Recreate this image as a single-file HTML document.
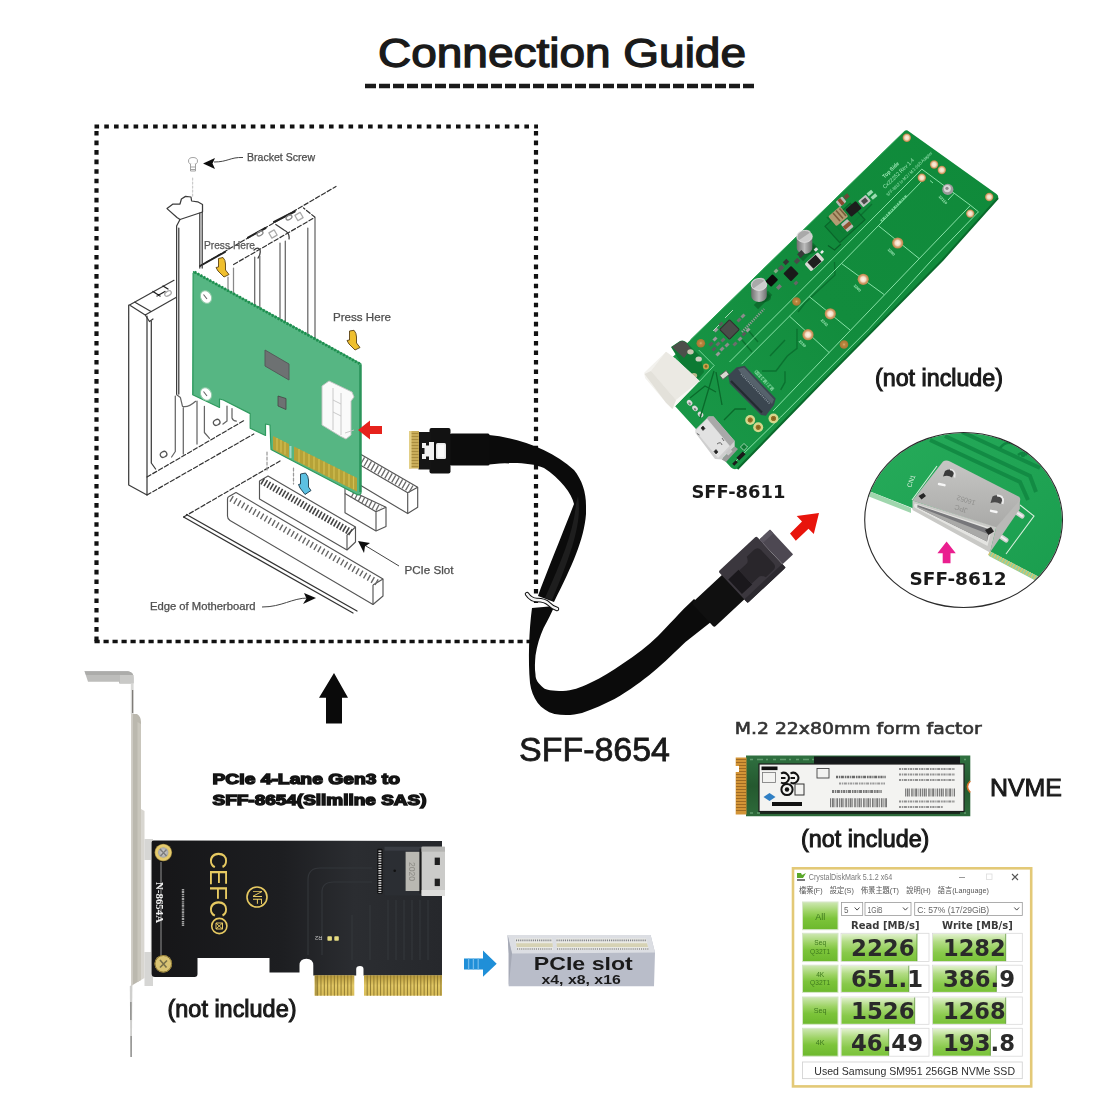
<!DOCTYPE html>
<html lang="en">
<head>
<meta charset="utf-8">
<title>Connection Guide</title>
<style>
html,body{margin:0;padding:0;background:#fff;}
body{width:1100px;height:1100px;overflow:hidden;font-family:"Liberation Sans",sans-serif;}
svg{display:block;}
.lab{font-family:"Liberation Sans",sans-serif;fill:#1a1a1a;}
.dj{font-family:"DejaVu Sans","Liberation Sans",sans-serif;}
.tiny{font-family:"Liberation Sans",sans-serif;fill:#555;}
</style>
</head>
<body>
<svg width="1100" height="1100" viewBox="0 0 1100 1100">
<defs>
<filter id="b1" x="-5%" y="-5%" width="110%" height="110%"><feGaussianBlur stdDeviation="0.6"/></filter>
<filter id="b2" x="-5%" y="-5%" width="110%" height="110%"><feGaussianBlur stdDeviation="0.9"/></filter>
</defs>
<rect width="1100" height="1100" fill="#fff"/>

<!-- ===== TITLE ===== -->
<g id="title">
<text x="562" y="67" text-anchor="middle" class="lab" font-size="40" stroke="#1a1a1a" stroke-width="1.3" textLength="368" lengthAdjust="spacingAndGlyphs">Connection Guide</text>
<line x1="365" y1="86" x2="757" y2="86" stroke="#1a1a1a" stroke-width="4.6" stroke-dasharray="11 3"/>
</g>

<!-- ===== DOTTED BOX ===== -->
<g id="dotbox" fill="none" stroke="#111" stroke-width="4.2">
<line x1="94.5" y1="126.5" x2="538" y2="126.5" stroke-dasharray="4.6 5.17"/>
<line x1="96.5" y1="131" x2="96.5" y2="643" stroke-dasharray="4.6 4.94"/>
<line x1="536" y1="131" x2="536" y2="643" stroke-dasharray="4.6 4.94"/>
<line x1="94.5" y1="641.5" x2="538" y2="641.5" stroke-dasharray="5.2 3.8" stroke-width="3.6"/>
</g>

<!--DIAGRAM-START-->
<!-- ===== INSTALL DIAGRAM ===== -->
<g id="diagram" filter="url(#b1)">
<g fill="none" stroke="#3c3c3c" stroke-width="1.25" stroke-linejoin="round" stroke-linecap="round">
  <!-- rear chassis: back edge line -->
  <path d="M200,266 L336,186.5" stroke-dasharray="4.5 2.2" stroke="#333" stroke-width="1.2"/>
  <path d="M200,266 L225,252 M248,237.6 L265.6,228 M274,222 L294.7,211.5" stroke="#222" stroke-width="2"/>
  <!-- front top edge of covers -->
  <path d="M233.6,264.5 L315,217.3 L303.5,208" stroke-dasharray="4.5 2.2" stroke="#333" stroke-width="1.2"/>
  <!-- cover dividers on top face -->
  <path d="M275.8,224.5 L284,230 Q290,233 289,239 M254,250 q4,-4 6,0 q1,4 -2,8"/>
  <rect x="270" y="231" width="6" height="6" stroke="#aaa" transform="rotate(-30 273 234)"/>
  <rect x="296" y="213.5" width="6" height="6" stroke="#aaa" transform="rotate(-30 299 216.5)"/>
  <ellipse cx="260" cy="233.5" rx="3.2" ry="2" stroke="#888" transform="rotate(-30 260 233.5)"/>
  <ellipse cx="289" cy="217.5" rx="3.2" ry="2" stroke="#888" transform="rotate(-30 289 217.5)"/>
  <!-- slot covers behind card verticals -->
  <path d="M254.7,257 V306 M259.8,256 V309 M280,243 V320 M285.3,241 V323 M307.8,228 V335 M315,218 V339" stroke="#666"/>
  <path d="M228,277 V290 M233.5,268 V293" stroke="#888"/>
  <!-- cover A (front-left) -->
  <path d="M129.5,305 L174,280.3 M129.5,305 L145.2,315 L176,297.5 M134.5,302 L151,311.5 M145.2,315 L149.5,321.5 L153,319" />
  <path d="M128.7,305 V485 L147,495 M147,316 V495 M151.3,321 V463 L155.6,469" />
  <path d="M153,291.5 l7,4.5 M163,286 l5,3 M157,296 l8,-4.5" stroke="#222" stroke-width="1.4"/>
  <ellipse cx="168" cy="293.5" rx="3.6" ry="2.2" stroke="#aaa" transform="rotate(-30 168 293.5)"/>
  <!-- chassis bottom rails -->
  <path d="M147,495 L253.8,434 M147,477 L245,420" stroke-dasharray="4.5 2.2" stroke="#333" stroke-width="1.2"/>
  <!-- covers lower parts -->
  <path d="M175.3,396 V451.5 L171.6,457 M183.3,407.8 V454 M176.7,394.7 L180.4,397.6 L182.5,406.4 Q188,408 195.6,401.3 M197,401 V444 M204.4,406.4 V432.5 L209.5,438.4" stroke="#666"/>
  <path d="M227,406 V421 M232,408.5 V418 q1,3 4.4,3 M223,424 l4,-3" stroke="#666"/>
  <ellipse cx="163.6" cy="454.4" rx="3.4" ry="2.8" stroke="#555" transform="rotate(-30 163.6 454.4)"/>
  <ellipse cx="216.7" cy="422.4" rx="3.4" ry="2.8" stroke="#555" transform="rotate(-30 216.7 422.4)"/>
  <!-- card bracket -->
  <path d="M167,208.6 L173,204 L180,204 L181.4,199 L185.5,196.4 L191,197 L191.6,201 L197.7,201.8 L202.5,204.5 L202.5,212 L180,219.5 L177,217.5 Z" fill="#fff"/>
  <path d="M176.6,226 L180,219.5 M176.6,226 V394 M178.8,228 V394 M199.8,213 V268 M202.2,212 V268"/>
  <path d="M192.6,196 V176" stroke="#ccc" stroke-dasharray="2 2"/>
  <!-- motherboard edge -->
  <path d="M183.6,517 L353,613 M186.5,514.5 L357,611" stroke="#333"/>
  <path d="M183.6,517 L280,461" stroke-dasharray="4.5 2.2" stroke="#333" stroke-width="1.2"/>
  <path d="M267,452 V470 M293.5,468 V484" stroke="#999" stroke-dasharray="3 2"/>
</g>
<!-- PCIe slots -->
<g fill="#fff" stroke="#555" stroke-width="1.15" stroke-linejoin="round">
  <!-- slot 4 (far right) -->
  <path d="M355,451 L417.7,487.3 L417.7,507.3 L407.7,513.6 L355,482 Z" />
  <path d="M407.7,492.7 L417.7,487.3 M407.7,492.7 V513.6 M355,462 L407.7,492.7" fill="none"/>
  <path d="M362,460.5 L412,489.5" stroke-width="8" stroke="#6a6a6a" stroke-dasharray="1.3 2.7" fill="none"/>
  <!-- slot 3 -->
  <path d="M345,488 L386,507.3 L386,526.4 L376,531 L345,512.7 Z"/>
  <path d="M376,511.8 L386,507.3 M376,511.8 V531 M345,493.5 L376,511.8" fill="none"/>
  <path d="M352,494.5 L380.5,509.3" stroke-width="6.5" stroke="#6a6a6a" stroke-dasharray="1.3 2.7" fill="none"/>
  <!-- slot 2 (front long) -->
  <path d="M229,496.5 Q227.5,497 227.5,499 L227.5,516 Q227.5,519 230,520.5 L373,604.5 L383,596 L383,579 L236,492.5 Z"/>
  <path d="M373,585 L383,579 M373,585 V604.5" fill="none"/>
  <path d="M231,498.5 L378,583" stroke-width="6.5" stroke="#666" stroke-dasharray="1.4 3.0" fill="none"/>
  <!-- slot 1 (card slot) -->
  <path d="M259.5,481 L259.5,499 L347,550 L355.5,542 L355.5,527 L268,476 Z"/>
  <path d="M347,535 L355.5,527 M347,535 V550" fill="none"/>
  <path d="M262,481 L351,532.5" stroke-width="7" stroke="#444" stroke-dasharray="1.6 1.9" fill="none"/>
</g>
<!-- green card -->
<g>
  <path d="M193.5,271.5 L361,364 L361,493 Q360,496 356,494 L271,449.5 L270,425 L265.5,424 L265.5,435.5 L250.2,428.2 L250.2,413.6 L223.3,400 L219.5,399 L219.5,407.5 L192.7,394.7 Z" fill="#57b683" stroke="#2f9a5e" stroke-width="1.2" stroke-linejoin="round"/>
  <path d="M194.5,272 L361,364.5" stroke="#1f8f50" stroke-width="2.8" stroke-dasharray="2 1.4" fill="none"/>
  <path d="M360.3,365 V492" stroke="#2a945a" stroke-width="2.2" fill="none"/>
  <path d="M193.2,273 V394" stroke="#3fa56e" stroke-width="1.4" fill="none"/>
  <!-- gold fingers -->
  <path d="M273,436 L289,444 L289,458 L273,449.5 Z" fill="#b5a238"/>
  <path d="M294,446.5 L357,478 L357,491.5 L294,460 Z" fill="#b5a238"/>
  <path d="M277,438 v12.5 M281,440 v12.5 M285,442 v12.5 M299,449 v13 M304,451.5 v13 M309,454 v13 M314,456.5 v13 M319,459 v13 M324,461.5 v13 M329,464 v13 M334,466.5 v13 M339,469 v13 M344,471.5 v13 M349,474 v13 M353.5,476.3 v13" stroke="#d2c052" stroke-width="1.2" fill="none"/>
  <path d="M290.5,446 v12" stroke="#9fd8c8" stroke-width="2" fill="none"/>
  <!-- chips -->
  <path d="M265,350 L289,364 L289,380 L265,366 Z" fill="#6d7172" stroke="#565a5a" stroke-width="1"/>
  <path d="M278,396 L286,398.5 L286,409.5 L278,406 Z" fill="#6d7172" stroke="#444" stroke-width="0.8"/>
  <!-- screw holes -->
  <ellipse cx="206" cy="297" rx="5.3" ry="6.6" fill="#fff" stroke="#8fcaa8" stroke-width="1" transform="rotate(-30 206 297)"/>
  <ellipse cx="206" cy="394" rx="5.3" ry="6.6" fill="#fff" stroke="#8fcaa8" stroke-width="1" transform="rotate(-30 206 394)"/>
  <path d="M203.5,294.5 l3.5,4.5 M203.5,391.5 l3.5,4.5" stroke="#666" stroke-width="1.1" fill="none"/>
  <!-- white connector -->
  <path d="M322,386 L329,381 L352,392 L354,397 L351,401 L351,435 L346,439 L340,436 L322,425 Z" fill="#fafafa" stroke="#c4c4c4" stroke-width="0.9"/>
  <path d="M333,388 L333,430 M341,393 L341,435 M333,400 l8,4 M333,412 l8,4 M345,433 l9,-3" stroke="#c4c4c4" stroke-width="0.9" fill="none"/>
</g>
<!-- arrows -->
<polygon points="358,430 370,420.5 370,426 382,426 382,434 370,434 370,439.5" fill="#e6211c"/>
<path d="M218.5,258.5 L223,257.5 Q225.5,260 225.5,264 L225.5,270 L229,274.5 L224,277 L218,271 L216,267.5 L218.5,267 Z" fill="#efbf2e" stroke="#5a4212" stroke-width="0.9" stroke-linejoin="round"/>
<path d="M349.5,331 L354,330.3 Q356.5,333 356.5,337 L356.5,343 L360,347.5 L355,350 L349,344 L347,340.5 L349.5,340 Z" fill="#efbf2e" stroke="#5a4212" stroke-width="0.9" stroke-linejoin="round"/>
<path d="M300.5,474 L305.5,473 Q308.5,476 308.5,480 L308.5,487 L311,490.5 L305,494.5 L300,488 L298.5,484.5 L300.5,484 Z" fill="#5cc0e2" stroke="#1d3a4a" stroke-width="0.9" stroke-linejoin="round"/>
<!-- screw -->
<g stroke="#999" stroke-width="0.9" fill="#fff">
  <ellipse cx="193" cy="161" rx="4.5" ry="3.5"/>
  <path d="M190.5,164 v7 h5 v-7 M190.5,167 h5 M190.5,169.5 h5"/>
</g>
<!-- leader lines -->
<g fill="none" stroke="#444" stroke-width="1">
  <path d="M214,162 C228,162 230,157 243,157.5"/>
  <path d="M262,607 C282,607 292,598 308,598"/>
  <path d="M366,546 L399,566"/>
</g>
<polygon points="203,163.6 215,158 212.5,163.6 215,169" fill="#111"/>
<polygon points="316,598 304,593 306.5,598.5 303,604" fill="#111"/>
<polygon points="358,541 370,543 365,546.5 364,553" fill="#111"/>
<!-- diagram labels -->
<g class="tiny" fill="#444" stroke="#444" stroke-width="0.25">
  <text x="247" y="160.5" font-size="10" textLength="68" lengthAdjust="spacingAndGlyphs">Bracket Screw</text>
  <text x="204" y="248.5" font-size="10.5" textLength="51" lengthAdjust="spacingAndGlyphs" fill="#666">Press Here</text>
  <text x="333" y="321" font-size="11" textLength="58" lengthAdjust="spacingAndGlyphs">Press Here</text>
  <text x="404.5" y="574" font-size="10" textLength="49" lengthAdjust="spacingAndGlyphs">PCIe Slot</text>
  <text x="150" y="609.5" font-size="10" textLength="105.6" lengthAdjust="spacingAndGlyphs">Edge of Motherboard</text>
</g>
</g>
<!--DIAGRAM-END-->

<!--CABLE-START-->
<!-- ===== CABLE ===== -->
<g id="cable">
  <!-- upper ribbon from connector 1 to the fold -->
  <path d="M450,434 L489,435 C520,438 552,450 574,470 C582,480 586,492 586,506 L586,514 C584,540 572,566 554,602 L538,596 C546,574 560,540 574,504 C572,494 560,478 544,468 C530,462 510,462 489,464.5 L450,465 Z" fill="#0b0b0b"/>
  <!-- fold shading -->
  <path d="M578,496 C582,520 574,548 552,600 L545,598 C562,560 574,530 576,504 Z" fill="#1e1e1e"/>
  <!-- lower loop -->
  <path d="M532,608 C529,630 528,660 530,683 C532,698 540,710 554.5,714 C565,716 574,715 582,713 C594,709 604,704 614.5,699 C630,690 642,681 653,672 C664,663 676,651 685.5,642 L716,618 L694,599 C680,612 668,626 658,636 C648,646 636,655 623,663.6 C612,671 602,678 590,683 C580,688 572,690.5 563,691 C552,691 546,690 543.6,688 C538,683 535.5,680 535.5,674.5 C534.5,668 535,662 535.5,655.5 C537,645 540,636 543.6,628 C548,620 552,612 554.5,606 Z" fill="#0b0b0b"/>
  <!-- cable tie -->
  <path d="M527,594 q4,6 10,6 q8,0 12,4 q4,4 8,5" fill="none" stroke="#111" stroke-width="4.5" stroke-linecap="round"/>
  <path d="M527,594 q4,6 10,6 q8,0 12,4 q4,4 8,5" fill="none" stroke="#f4f4f4" stroke-width="2.4" stroke-linecap="round"/>
  <!-- connector 1 (left) -->
  <rect x="450" y="433.5" width="39.5" height="32" rx="1.5" fill="#0c0c0c"/>
  <rect x="429.5" y="428" width="21" height="45.5" rx="2" fill="#121212"/>
  <rect x="418.5" y="432" width="12" height="37.5" fill="#161616"/>
  <rect x="409" y="431" width="10" height="37.5" fill="#c9ad5a"/>
  <path d="M409.5,433.5 h9 M409.5,436.5 h9 M409.5,439.5 h9 M409.5,442.5 h9 M409.5,445.5 h9 M409.5,448.5 h9 M409.5,451.5 h9 M409.5,454.5 h9 M409.5,457.5 h9 M409.5,460.5 h9 M409.5,463.5 h9 M409.5,466.5 h9" stroke="#a88c3e" stroke-width="1"/>
  <rect x="409" y="431" width="2.5" height="37.5" fill="#e3cf86"/>
  <path d="M422,443 h4 v2.5 h3 v-3.5 h5 v18 h-5 v-3.5 h-3 v2.5 h-4 v-5 h2.5 v-6 h-2.5 Z" fill="#f2f2f2"/>
  <rect x="436" y="443" width="10" height="16" rx="1.5" fill="#e9e9e9"/>
  <rect x="437.5" y="444.5" width="7" height="13" rx="1" fill="#fbfbfb"/>
  <!-- connector 2 (right) -->
  <g transform="translate(752 569.6) rotate(-43)">
    <rect x="-67" y="-16.5" width="44" height="33" rx="2" fill="#101010"/>
    <rect x="-26" y="-21.5" width="52" height="43" rx="2" fill="#3b373e"/>
    <rect x="26" y="-17" width="14.5" height="34" rx="1" fill="#4d4852"/>
    <path d="M-24,-9 h14 v20 h-14 Z" fill="#1a181c"/>
    <path d="M-10,-8 h10 q3,0 5,-5 h10 q5,0 5,5 v18 q0,5 -5,5 h-10 q-2,-5 -5,-5 h-10 Z" fill="#29262b"/>
    <path d="M-26,21.5 h52 v-5 h-52 Z" fill="#2c292f"/>
    <path d="M26,-17 h14.5 v5 h-14.5 Z" fill="#5a5560"/>
  </g>
</g>
<!--CABLE-END-->

<!--PCB-START-->
<!-- ===== GREEN ADAPTER PCB ===== -->
<g id="pcb">
<defs><linearGradient id="pcbg" x1="0" y1="1" x2="1" y2="0"><stop offset="0" stop-color="#1b9a4a"/><stop offset="0.5" stop-color="#128c3d"/><stop offset="1" stop-color="#0f8a3a"/></linearGradient>
<radialGradient id="hole"><stop offset="0" stop-color="#d9b070"/><stop offset="0.35" stop-color="#b98640"/><stop offset="1" stop-color="#a87430"/></radialGradient>
<radialGradient id="holec"><stop offset="0" stop-color="#fbf1e2"/><stop offset="0.5" stop-color="#f1dcc0"/><stop offset="0.75" stop-color="#d9a878"/><stop offset="1" stop-color="#b9803f"/></radialGradient>
<radialGradient id="holey"><stop offset="0" stop-color="#7a5a1e"/><stop offset="0.45" stop-color="#9a7628"/><stop offset="0.6" stop-color="#d9d488"/><stop offset="1" stop-color="#cfd890"/></radialGradient>
<radialGradient id="holeb"><stop offset="0" stop-color="#fff6ea"/><stop offset="0.45" stop-color="#f3dfc6"/><stop offset="0.7" stop-color="#d6a070"/><stop offset="1" stop-color="#b98345"/></radialGradient>
<linearGradient id="capg" x1="0" y1="0" x2="1" y2="0"><stop offset="0" stop-color="#6f6f6f"/><stop offset="0.5" stop-color="#bdbdbd"/><stop offset="1" stop-color="#707070"/></linearGradient></defs>
<path d="M904.5,131 Q906.5,129.5 909,131.5 L996.5,194 Q999.5,196.5 997.5,199.5 L942,260 L823.6,380 L739,467.5 Q735,471 731,467.5 L654,383 Q650,379 654,375 L690.4,340 Z" fill="url(#pcbg)"/>
<path d="M998,198 L942.5,260 L824,380 L737.5,469" stroke="#0a6a2c" stroke-width="2" fill="none"/>
<path d="M905,131 L690.4,340" stroke="#2aa356" stroke-width="1" fill="none"/>
<g fill="none" stroke="#0b7230" stroke-width="1.4">
<path d="M827,217 L843,233 L872,204 M834.5,262 L835,275 L805,303 L798,312 M797,328.7 V348.4 L787.3,356 L776,371 H762 M785,371.3 V382.2 L780.7,389.8 M748,330 l10,12 M742,340 l10,12 M770,356 L785,340"/>
</g>
<g fill="none" stroke="#8fe6ad" stroke-width="1" opacity="0.95">
<path d="M921.8,169.1 L790.5,300.9 L729.5,362"/>
<path d="M921.8,169.1 L970.5,205.3 L773,411"/>
<path d="M970.5,205.3 L978.5,211.8 L932.7,259.1 L869.1,328.7 L780.7,417.1 L735,462"/>
<path d="M924,179 L809.1,296.5 L741.5,364.2"/>
<path d="M878.4,225.7 L919.1,258.5 M841.5,263.5 L884.2,294.6 M809.1,296.5 L850.1,330 M789.5,316.2 L829.3,352.7"/>
<path d="M954.5,193 L948,200 M930,180.5 l3,2.5"/>
</g>
<g font-family="'Liberation Sans',sans-serif" fill="#a4ecbc" font-size="4.6" opacity="0.95">
<text transform="translate(884.5,178.5) rotate(-44)" font-weight="bold" font-size="5.4" textLength="20.8" lengthAdjust="spacingAndGlyphs">Top Side</text>
<text transform="translate(885,189) rotate(-44)" font-size="5.6" textLength="41" lengthAdjust="spacingAndGlyphs">Cx22252 Rev 1.4</text>
<text transform="translate(888,196.5) rotate(-44)" font-size="4.4" textLength="62" lengthAdjust="spacingAndGlyphs">SFF-8612 to M.2 / M.3 SSD Adapter</text>
<path d="M881,221 L907,195" stroke="#8fe6ad" stroke-width="2.2" stroke-dasharray="1.6 0.9 2.5 0.8 1 0.9" fill="none" opacity="0.85"/>
<text transform="translate(887.5,250) rotate(46)" font-size="3.8" font-weight="bold">2280</text>
<text transform="translate(853.5,286) rotate(46)" font-size="3.8" font-weight="bold">2260</text>
<text transform="translate(820.5,320.5) rotate(46)" font-size="3.8" font-weight="bold">2242</text>
<text transform="translate(798.5,341.5) rotate(46)" font-size="3.8" font-weight="bold">2230</text>
<text transform="translate(938.5,197) rotate(46)" font-size="3.8" font-weight="bold">22110</text>
<text transform="translate(774.5,388.5) rotate(-133)" font-size="4.6" font-weight="bold" textLength="26" lengthAdjust="spacingAndGlyphs">M.2 / M.3 SSD</text>
</g>
<circle cx="906.8" cy="137.7" r="4.2" fill="url(#holec)"/>
<circle cx="934.1" cy="164.5" r="4.2" fill="url(#holec)"/>
<circle cx="941.8" cy="170.0" r="4.2" fill="url(#holec)"/>
<circle cx="921.8" cy="177.7" r="4.2" fill="url(#holec)"/>
<circle cx="989.2" cy="197.0" r="4.2" fill="url(#holec)"/>
<circle cx="970.2" cy="213.6" r="4.2" fill="url(#holec)"/>
<circle cx="796.5" cy="301.5" r="4.3" fill="url(#hole)"/>
<circle cx="844.0" cy="344.5" r="4.3" fill="url(#hole)"/>
<circle cx="700.8" cy="343.2" r="4.3" fill="url(#hole)"/>
<circle cx="750.2" cy="420.0" r="5.0" fill="url(#holey)"/>
<circle cx="758.2" cy="427.3" r="5.0" fill="url(#holey)"/>
<circle cx="773.5" cy="418.5" r="5.0" fill="url(#holey)"/>
<circle cx="897.7" cy="243.0" r="5.6" fill="url(#holeb)"/>
<circle cx="863.2" cy="279.3" r="5.6" fill="url(#holeb)"/>
<circle cx="830.3" cy="313.8" r="5.6" fill="url(#holeb)"/>
<circle cx="808.0" cy="334.7" r="5.6" fill="url(#holeb)"/>
<circle cx="947.8" cy="189.4" r="5.6" fill="#9a9a9a"/><circle cx="947.3" cy="188.6" r="3.6" fill="#d6d6d6"/><circle cx="947" cy="188.3" r="1.6" fill="#8a8a8a"/>
<rect x="828.0" y="212.0" width="34.0" height="22.0" transform="rotate(-42 845.0 223.0)" fill="#0f7f36" stroke="#0a6028" stroke-width="1.2" opacity="0.85"/>
<path d="M828,245.5 L834.5,250 L841,244" fill="none" stroke="#0a6028" stroke-width="1.2"/>
<rect x="830.5" y="209.9" width="15.5" height="13.0" transform="rotate(-40 838.2 216.4)" fill="#b39c72" rx="1.5"/>
<path d="M833,213 l7,8 M836,210.5 l7,8 M839.5,208.5 l6.5,7.5" stroke="#7d5e3c" stroke-width="1.6" fill="none"/>
<rect x="846.8" y="204.2" width="13.6" height="9.5" transform="rotate(-40 853.6 209.0)" fill="#1d1d1d" rx="1"/>
<rect x="836.8" y="198.3" width="8.5" height="7.0" transform="rotate(-40 841.0 201.8)" fill="#b9b9b2" rx="1"/>
<rect x="839.2" y="198.3" width="3.6" height="7.0" transform="rotate(-40 841.0 201.8)" fill="#8a4a30" />
<rect x="843.0" y="220.5" width="8.5" height="10.0" transform="rotate(-40 847.3 225.5)" fill="#bdbdb6" rx="1"/>
<rect x="843.0" y="223.5" width="8.5" height="4.0" transform="rotate(-40 847.3 225.5)" fill="#8f5030" />
<rect x="844.0" y="194.5" width="5.0" height="4.0" transform="rotate(-40 846.5 196.5)" fill="#6a4a38" />
<rect x="859.5" y="197.0" width="10.0" height="8.0" transform="rotate(-40 864.5 201.0)" fill="#c4c4c4" rx="1"/>
<rect x="861.8" y="198.8" width="5.5" height="4.5" transform="rotate(-40 864.5 201.0)" fill="#4a4a4a" />
<rect x="867.0" y="191.2" width="6.0" height="3.5" transform="rotate(-40 870.0 193.0)" fill="#9adbb0" />
<rect x="871.0" y="194.8" width="6.0" height="3.5" transform="rotate(-40 874.0 196.5)" fill="#9adbb0" />
<rect x="798.0" y="249.0" width="20.0" height="6.0" transform="rotate(-45 808.0 252.0)" fill="#0a5f27" opacity="0.7"/>
<ellipse cx="807.5" cy="249.4" rx="9" ry="5" fill="#07521f" opacity="0.55"/>
<path d="M796.7,236.4 v11.5 a7.8,6 0 0 0 15.6,0 v-11.5 Z" fill="url(#capg)"/>
<ellipse cx="804.5" cy="236.4" rx="7.8" ry="6" fill="#cdcdcd"/>
<path d="M796.7,236.4 a7.8,6 0 0 1 15.6,0 Z" fill="#a9a9a9" transform="rotate(-35 804.5 236.4)"/>
<ellipse cx="804.5" cy="236.4" rx="7.8" ry="6" fill="none" stroke="#e6e6e6" stroke-width="0.7"/>
<rect x="753.0" y="297.0" width="20.0" height="6.0" transform="rotate(-45 763.0 300.0)" fill="#0a5f27" opacity="0.7"/>
<ellipse cx="762.0" cy="297.5" rx="9" ry="5" fill="#07521f" opacity="0.55"/>
<path d="M751.2,284.5 v11.5 a7.8,6 0 0 0 15.6,0 v-11.5 Z" fill="url(#capg)"/>
<ellipse cx="759.0" cy="284.5" rx="7.8" ry="6" fill="#cdcdcd"/>
<path d="M751.2,284.5 a7.8,6 0 0 1 15.6,0 Z" fill="#a9a9a9" transform="rotate(-35 759.0 284.5)"/>
<ellipse cx="759.0" cy="284.5" rx="7.8" ry="6" fill="none" stroke="#e6e6e6" stroke-width="0.7"/>
<rect x="805.5" y="256.8" width="18.0" height="10.0" transform="rotate(-42 814.5 261.8)" fill="#d9d9d4" rx="1.5"/>
<rect x="809.0" y="257.3" width="11.0" height="9.0" transform="rotate(-42 814.5 261.8)" fill="#1f1f1f" />
<rect x="785.5" y="268.1" width="11.0" height="11.0" transform="rotate(-45 791.0 273.6)" fill="#1a1a1a" rx="1"/>
<rect x="766.8" y="276.5" width="10.0" height="8.0" transform="rotate(-45 771.8 280.5)" fill="#0c0c0c" rx="1"/>
<rect x="798.0" y="251.5" width="6.0" height="5.0" transform="rotate(-45 801.0 254.0)" fill="#3a3a3a" />
<rect x="794.5" y="259.0" width="5.0" height="4.0" transform="rotate(-45 797.0 261.0)" fill="#4a4a4a" />
<rect x="783.5" y="260.0" width="5.0" height="4.0" transform="rotate(-45 786.0 262.0)" fill="#333" />
<rect x="778.5" y="266.0" width="5.0" height="4.0" transform="rotate(-45 781.0 268.0)" fill="#555" />
<rect x="776.5" y="285.2" width="5.0" height="3.5" transform="rotate(-45 779.0 287.0)" fill="#777" />
<rect x="794.0" y="281.5" width="4.0" height="3.0" transform="rotate(-45 796.0 283.0)" fill="#666" />
<rect x="814.2" y="248.0" width="3.5" height="3.0" transform="rotate(-45 816.0 249.5)" fill="#ddd" />
<rect x="820.5" y="250.8" width="3.0" height="2.5" transform="rotate(-45 822.0 252.0)" fill="#eee" />
<rect x="774.0" y="269.5" width="4.0" height="3.0" transform="rotate(-45 776.0 271.0)" fill="#8a8" />
<rect x="722.5" y="322.5" width="14.0" height="14.0" transform="rotate(-45 729.5 329.5)" fill="#4a4d4a" rx="1" stroke="#2e302e" stroke-width="1"/>
<rect x="715.9" y="342.5" width="4.2" height="3.0" transform="rotate(-45 718.0 344.0)" fill="#6d6d6d" />
<rect x="719.9" y="347.5" width="4.2" height="3.0" transform="rotate(-45 722.0 349.0)" fill="#8c8c8c" />
<rect x="711.9" y="347.5" width="4.2" height="3.0" transform="rotate(-45 714.0 349.0)" fill="#5a5a5a" />
<rect x="715.9" y="352.5" width="4.2" height="3.0" transform="rotate(-45 718.0 354.0)" fill="#9a9a9a" />
<rect x="720.9" y="338.5" width="4.2" height="3.0" transform="rotate(-45 723.0 340.0)" fill="#6d6d6d" />
<rect x="724.9" y="343.5" width="4.2" height="3.0" transform="rotate(-45 727.0 345.0)" fill="#8c8c8c" />
<rect x="708.9" y="342.5" width="4.2" height="3.0" transform="rotate(-45 711.0 344.0)" fill="#5a5a5a" />
<rect x="712.9" y="337.5" width="4.2" height="3.0" transform="rotate(-45 715.0 339.0)" fill="#9a9a9a" />
<rect x="732.9" y="342.5" width="4.2" height="3.0" transform="rotate(-45 735.0 344.0)" fill="#6d6d6d" />
<rect x="737.9" y="337.5" width="4.2" height="3.0" transform="rotate(-45 740.0 339.0)" fill="#8c8c8c" />
<rect x="741.9" y="332.5" width="4.2" height="3.0" transform="rotate(-45 744.0 334.0)" fill="#5a5a5a" />
<rect x="745.9" y="328.5" width="4.2" height="3.0" transform="rotate(-45 748.0 330.0)" fill="#9a9a9a" />
<rect x="736.9" y="318.5" width="4.2" height="3.0" transform="rotate(-45 739.0 320.0)" fill="#6d6d6d" />
<rect x="740.9" y="314.5" width="4.2" height="3.0" transform="rotate(-45 743.0 316.0)" fill="#8c8c8c" />
<rect x="718.9" y="322.5" width="4.2" height="3.0" transform="rotate(-45 721.0 324.0)" fill="#5a5a5a" />
<rect x="713.9" y="328.5" width="4.2" height="3.0" transform="rotate(-45 716.0 330.0)" fill="#9a9a9a" />
<path d="M742,332 L764,309" stroke="#9a9a9a" stroke-width="2.4" stroke-dasharray="1.2 1.2" fill="none"/>
<path d="M725,318 l8,-8 M713,331 l6,-6" stroke="#cfe8d4" stroke-width="0.8" fill="none"/>
<rect x="720.5" y="372.5" width="8.0" height="5.0" transform="rotate(-38 724.5 375.0)" fill="#d8d8d0" stroke="#555" stroke-width="0.8"/>
<path d="M736.4,367.5 L744.6,365.8 L775.7,398.6 L774,405 L765.8,415.7 L761,415 L729.8,383.8 L728.2,375.6 Z" fill="#3b4650"/>
<path d="M738,369 L744,367.5 L774,399.5 L772,404 L740,372 Z" fill="#56626c"/>
<path d="M731,381 L762,412.5" stroke="#232a30" stroke-width="2.2" fill="none"/>
<path d="M741,374 L770,404" stroke="#8c98a0" stroke-width="1.5" stroke-dasharray="1 1" fill="none"/>
<ellipse cx="689.6" cy="402.7" rx="3.1" ry="2.4" fill="#dadada" transform="rotate(45 689.6 402.7)"/>
<ellipse cx="690.2" cy="403.3" rx="1.4" ry="1" fill="#7d7d7d" transform="rotate(45 689.6 402.7)"/>
<ellipse cx="695.0" cy="408.4" rx="3.1" ry="2.4" fill="#dadada" transform="rotate(45 695.0 408.4)"/>
<ellipse cx="695.6" cy="409.0" rx="1.4" ry="1" fill="#7d7d7d" transform="rotate(45 695.0 408.4)"/>
<ellipse cx="700.5" cy="414.5" rx="3.1" ry="2.4" fill="#dadada" transform="rotate(45 700.5 414.5)"/>
<ellipse cx="701.1" cy="415.1" rx="1.4" ry="1" fill="#7d7d7d" transform="rotate(45 700.5 414.5)"/>
<path d="M714,371 L700,418 M716,372 L722,405 M690,398 L705,386 L716,392 M724,420 L735,409 H746" stroke="#0a6a2b" stroke-width="1.3" fill="none"/>
<path d="M698.7,350 L714.2,365.5 L699,382" fill="none" stroke="#8fe6ad" stroke-width="0.8"/>
<path d="M671,347 L680,341 Q683,339.5 686,342 L700,356 L704,372 L694,384 Z" fill="#0d7a33"/>
<path d="M672,347 L680,341.5 Q683,340 686,342.5 L691,349 L684,358 Z" fill="#4c4f4a"/>
<ellipse cx="690.5" cy="351.8" rx="3.2" ry="2.6" fill="#c9c6b0"/><ellipse cx="698.7" cy="359" rx="3.2" ry="2.6" fill="#cfcfc0"/><ellipse cx="694" cy="375.5" rx="3.2" ry="2.6" fill="#bdb98f"/>
<circle cx="706" cy="366.4" r="3" fill="#c9a24a"/><circle cx="706" cy="366.4" r="1.3" fill="#8a6a20"/>
<path d="M644.2,372.7 L666,351.8 L675,358.2 L699.6,381 L672.4,409 L666,402.7 L645,378 Z" fill="#f3f2ee"/>
<path d="M666,351.8 L675,358.2 L699.6,381 L676,400 L651,371 Z" fill="#ebe9e3"/>
<path d="M676,400 L699.6,381 L672.4,409 Z" fill="#f9f8f5"/>
<path d="M644.5,374 L666,402.7 L672.4,409 L676,400 L651,371 Z" fill="#e3e1da"/>
<path d="M708.6,416.6 L713.5,416.6 L734.7,441 L734.7,446.5 L721.7,459.5 L715,459 L695.5,433 L695.5,429.5 Z" fill="#cfcfcf"/>
<path d="M708.6,416.6 L713.5,416.6 L734.7,441 L730,446 L707,418.5 Z" fill="#a9a9a9"/>
<path d="M695.5,431 L707,419 L729.5,446 L718,458 Z" fill="#e2e2e2"/>
<path d="M717,444 q4,-3 5,1 M722,438 l2,3" stroke="#666" stroke-width="1" fill="none"/>
<path d="M701,428 l2,-2 l2,2.5 l-2,2 Z M714,451.5 l2,-2 l2,2.5 l-2,2 Z M697,433.5 l2.5,1.5" fill="#222" stroke="#222" stroke-width="0.6"/>
<path d="M721.7,459.5 L734.7,446.5 L738,449 L726,462 Z" fill="#9a9a9a"/>
<rect x="736.5" y="454.0" width="9.0" height="4.0" transform="rotate(-45 741.0 456.0)" fill="#1a1a1a" />
<rect x="732.5" y="461.5" width="5.0" height="3.0" transform="rotate(-45 735.0 463.0)" fill="#1a1a1a" />
<rect x="726.0" y="450.0" width="6.0" height="4.0" transform="rotate(-45 729.0 452.0)" fill="#c8c8c8" />
<rect x="741.5" y="444.5" width="5.0" height="5.0" transform="rotate(-45 744.0 447.0)" fill="#0e7c35" stroke="#cfe8d4" stroke-width="0.7"/>
</g>
<!--PCB-END-->

<!--CIRCLE-START-->
<!-- ===== SFF-8612 DETAIL CIRCLE ===== -->
<g id="circle">
<defs>
  <clipPath id="cclip"><ellipse cx="963.6" cy="520" rx="98.4" ry="87"/></clipPath>
  <linearGradient id="cgreen" x1="0" y1="0" x2="1" y2="1"><stop offset="0" stop-color="#27ac5b"/><stop offset="1" stop-color="#199c4d"/></linearGradient>
  <linearGradient id="csil" x1="0" y1="0" x2="0" y2="1"><stop offset="0" stop-color="#c6c6c4"/><stop offset="1" stop-color="#a9a9a7"/></linearGradient>
</defs>
<ellipse cx="963.6" cy="520" rx="98.9" ry="87.5" fill="#fff"/>
<g clip-path="url(#cclip)">
  <!-- green board -->
  <path d="M850,420 H1080 V600 L1040,577.5 L989,551 L911,507.5 L864,489 Z" fill="url(#cgreen)"/>
  <!-- light edge -->
  <path d="M860,487.5 L911,508 L911,513 L860,493 Z" fill="#9fd6ad"/>
  <path d="M989,551 L1042,578.5 L1042,584 L989,556 Z" fill="#8fcf9f"/>
  <!-- gold edge contacts -->
  <path d="M989,553 L1042,581" stroke="#d8c56a" stroke-width="4.5" stroke-dasharray="1.3 1.7" fill="none"/>
  <!-- darker traces upper right -->
  <path d="M930,440 L1020,482 L1028,500 M945,436 L1030,476 L1036,492 M962,432 L1040,468" stroke="#0f8540" stroke-width="4" fill="none" opacity="0.8"/>
  <path d="M1000,448 q6,-8 14,-4 M1018,455 q5,-4 9,0" stroke="#0f8540" stroke-width="2.5" fill="none"/>
  <circle cx="1023" cy="455" r="2.2" fill="#0f8540"/>
  <!-- silk outline -->
  <path d="M937,466 L912,500 M1020,505 L1034,516 L1006,554" stroke="#d7efdc" stroke-width="1.1" fill="none"/>
  <text transform="translate(911,488) rotate(-70)" font-family="'Liberation Sans',sans-serif" font-size="6.5" fill="#d7efdc">CN1</text>
  <!-- connector pins right -->
  <path d="M1016,512 l6,4 M1000,536 l6,4" stroke="#d0d0d0" stroke-width="5" stroke-linecap="round" fill="none"/>
  <path d="M1016,512 l6,4 M1000,536 l6,4" stroke="#f0f0f0" stroke-width="2" stroke-linecap="round" fill="none"/>
  <!-- connector top face -->
  <path d="M943,461.5 Q946,459.5 950,461.5 L1018.5,496.5 Q1021.5,498.5 1019.5,502 L996.5,528 L912.5,500.4 Z" fill="url(#csil)"/>
  <!-- right side face -->
  <path d="M996.2,527.3 L1019.8,500 L1019.8,509 L990,552.5 Z" fill="#b9b9b7"/>
  <!-- front face -->
  <path d="M912.5,500.4 L996.2,527.3 L990,552.5 L912.5,510 Z" fill="#c9c9c6"/>
  <path d="M915,503.5 L992,528.5 L987.5,546 L915,507.8 Q913,505.5 915,503.5 Z" fill="#e4e4e1"/>
  <path d="M917.5,505 L990,529.5 L987,541.5 L917.5,507.5 Z" fill="#77777a"/>
  <path d="M917.5,506.5 L988,534 L987,541.5 L917.5,507.5 Z" fill="#a9a9a7"/>
  <!-- holes on top -->
  <path d="M945,471 q5,-3 10,0.5 l-3,6 q-4,-3 -9,-1 Z" fill="#3a3a3a"/>
  <path d="M950,469.5 q6,0.5 4.5,8" stroke="#e8e8e8" stroke-width="1.7" fill="none"/>
  <path d="M992.5,496.5 q5,-3 11,1 l-3,6.5 q-4,-3 -10,-1 Z" fill="#4a4a4a"/>
  <path d="M997,495.5 q8,0 5.5,8.5" stroke="#ececec" stroke-width="1.9" fill="none"/>
  <path d="M939,484 l5.5,1.2" stroke="#f6f6f6" stroke-width="2.4" stroke-linecap="round"/>
  <path d="M991,510.8 l5.5,1.2" stroke="#f6f6f6" stroke-width="2.4" stroke-linecap="round"/>
  <path d="M918.5,496 l5,-3 l2.5,3 l-4.5,3.5 Z M985,530 l6,-3 l3,4.5 l-5.5,3.5 Z" fill="#262626"/>
  <!-- engraved text -->
  <g font-family="'Liberation Sans',sans-serif" fill="#8f8f8d" font-size="7">
    <text transform="translate(976,501) rotate(198)">16052</text>
    <text transform="translate(968,508.5) rotate(198)">JPC</text>
  </g>
</g>
<ellipse cx="963.6" cy="520" rx="98.9" ry="87.5" fill="none" stroke="#2b2b2b" stroke-width="1.1"/>
<!-- pink arrow -->
<polygon points="946.6,541.6 955.8,553.3 950.5,553.3 950.5,563.2 942.7,563.2 942.7,553.3 937.4,553.3" fill="#ea1f8f"/>
<text x="909.5" y="584.8" class="lab dj" font-weight="bold" font-size="18.5" textLength="97" lengthAdjust="spacingAndGlyphs">SFF-8612</text>
</g>
<!--CIRCLE-END-->

<!--CARD-START-->
<!-- ===== PCIe CARD WITH BRACKET ===== -->
<g id="card">
<defs>
  <linearGradient id="brk" x1="0" y1="0" x2="1" y2="0"><stop offset="0" stop-color="#b4b1ac"/><stop offset="0.55" stop-color="#c4c1bb"/><stop offset="0.6" stop-color="#d9d6d0"/><stop offset="1" stop-color="#e2dfda"/></linearGradient>
  <linearGradient id="cardg" x1="0" y1="0" x2="1" y2="0"><stop offset="0" stop-color="#161618"/><stop offset="0.45" stop-color="#1d1e21"/><stop offset="0.7" stop-color="#2b2d31"/><stop offset="1" stop-color="#26282c"/></linearGradient>
  <linearGradient id="goldf" x1="0" y1="0" x2="0" y2="1"><stop offset="0" stop-color="#b89a3a"/><stop offset="0.5" stop-color="#e2c865"/><stop offset="1" stop-color="#d9bd58"/></linearGradient>
  <radialGradient id="scr"><stop offset="0" stop-color="#d8d8d8"/><stop offset="0.55" stop-color="#a8a8a8"/><stop offset="0.62" stop-color="#e0c66a"/><stop offset="0.85" stop-color="#e6cc70"/><stop offset="1" stop-color="#8a7430"/></radialGradient>
</defs>
<!-- bracket -->
<path d="M84.5,671.3 L128,671.3 Q133.6,672 133.6,678 L133.6,683.6 L119,683.6 L119,681.8 L88,681.8 Z" fill="#bdbdbb"/>
<path d="M84.5,671.3 L128,671.3 Q132,671.8 133.2,675 L86,675 Z" fill="#acacaa"/>
<path d="M120,675 L133.6,675 L133.6,683.6 L120,683.6 Z" fill="#c9c9c7"/>
<path d="M130.8,683.6 L133.6,683.6 L133.6,714 L130.8,714 Z" fill="#d8d8d6"/>
<path d="M132.7,690 V713" stroke="#5d5a56" stroke-width="0.9"/>
<path d="M131,714 L137,714 Q141,716.5 141,722 L141,980 L131,986 Z" fill="#bbb8ae"/>
<path d="M131,714 L132.8,714 L132.8,985 L131,986 Z" fill="#d2cfc8"/>
<path d="M137.5,722 L141,724 L141,980 L137.5,982 Z" fill="#c9c6bc"/>
<path d="M141,809 L144.5,811 L144.5,978 L141,980 Z" fill="#d8d6d0"/>
<path d="M129.8,986 L132.4,985 L131.8,1057 L130.4,1057 Z" fill="#cfcfcd"/>
<path d="M130.9,1002 V1020 M131.1,1036 V1057" stroke="#6a6a68" stroke-width="0.9"/>
<!-- plate under pcb -->
<path d="M144.5,839 L153,839 L153,986 L144.5,986 Z" fill="#d6d6d4"/>
<path d="M144.5,860 L150.8,860 L150.8,952 L144.5,952 Z" fill="#fdfdfd"/>
<!-- PCB -->
<path d="M153.5,840.5 L442,841 L442,975.5 L363.5,975.5 L363.5,969 Q363.5,966 360,966 Q356.2,966 356.2,969 L356.2,975.5 L313.3,975.5 L313.3,965.5 Q313.3,958.7 306.4,958.7 Q299.5,958.7 299.5,965.5 L299.5,972.5 L269.5,972.5 L269.5,958 L197.5,958 L197.5,974 Q197.5,977 194.5,977 L155,977 Q151.6,977 151.6,973.5 L151.6,842.5 Q151.6,840.5 153.5,840.5 Z" fill="url(#cardg)"/>
<!-- subtle traces -->
<g fill="none" stroke="#34373c" stroke-width="1.2" opacity="0.9">
  <path d="M308,955 V880 Q308,868 320,868 H372 M322,955 V892 Q322,882 334,882 H372 M388,900 V960 M396,900 V960 M404,900 V960 M412,900 V960 M420,900 V960 M428,900 V960 M370,905 V960 M352,915 V960"/>
</g>
<!-- gold fingers -->
<rect x="314.5" y="975.3" width="39.8" height="20.4" fill="url(#goldf)"/>
<rect x="364" y="975.3" width="78" height="20.4" fill="url(#goldf)"/>
<path d="M316,975.3 V995.7" stroke="#7d6a2a" stroke-width="0.9" stroke-dasharray="none" fill="none"/>
<g stroke="#8a752e" stroke-width="0.9" fill="none">
<path d="M317.6,975.3 v20.4 M320.95,975.3 v20.4 M324.3,975.3 v20.4 M327.65,975.3 v20.4 M331,975.3 v20.4 M334.35,975.3 v20.4 M337.7,975.3 v20.4 M341.05,975.3 v20.4 M344.4,975.3 v20.4 M347.75,975.3 v20.4 M351.1,975.3 v20.4"/>
<path d="M367.2,975.3 v20.4 M370.55,975.3 v20.4 M373.9,975.3 v20.4 M377.25,975.3 v20.4 M380.6,975.3 v20.4 M383.95,975.3 v20.4 M387.3,975.3 v20.4 M390.65,975.3 v20.4 M394,975.3 v20.4 M397.35,975.3 v20.4 M400.7,975.3 v20.4 M404.05,975.3 v20.4 M407.4,975.3 v20.4 M410.75,975.3 v20.4 M414.1,975.3 v20.4 M417.45,975.3 v20.4 M420.8,975.3 v20.4 M424.15,975.3 v20.4 M427.5,975.3 v20.4 M430.85,975.3 v20.4 M434.2,975.3 v20.4 M437.55,975.3 v20.4 M440.9,975.3 v20.4"/>
</g>
<!-- screws -->
<circle cx="163.3" cy="852.5" r="8.8" fill="url(#scr)"/>
<path d="M160,849 l6.5,7 M166.5,849.5 l-6,6.5" stroke="#7c7c7c" stroke-width="1.4"/>
<circle cx="163.3" cy="963.8" r="8.8" fill="#d9c474"/>
<circle cx="163.3" cy="963.8" r="8.3" fill="none" stroke="#8a7430" stroke-width="1"/>
<path d="M160,960 l6.5,7.5 M167,960.5 l-7,7" stroke="#77704a" stroke-width="1.6"/>
<path d="M161,862 V955" stroke="#c8c8c8" stroke-width="0.7"/>
<!-- markings -->
<text transform="translate(209.9,851.5) rotate(90)" font-family="'Liberation Sans',sans-serif" font-size="24" fill="#e7ca62" textLength="66" lengthAdjust="spacingAndGlyphs">CEFC</text>
<circle cx="219.3" cy="926" r="7.6" fill="none" stroke="#e7ca62" stroke-width="1.6"/>
<path d="M216,923 h6.5 v6 h-6.5 Z M216,923 l6.5,6 M222.5,923 l-6.5,6" fill="none" stroke="#e7ca62" stroke-width="1"/>
<circle cx="257" cy="897" r="10" fill="none" stroke="#e7ca62" stroke-width="1.6"/>
<text transform="translate(252.5,890) rotate(90)" font-family="'Liberation Sans',sans-serif" font-size="12.5" fill="#e7ca62" textLength="14.5" lengthAdjust="spacingAndGlyphs">NF</text>
<text transform="translate(155.8,882) rotate(90)" font-family="'Liberation Serif',serif" font-weight="bold" font-size="9.5" fill="#efefef" textLength="41" lengthAdjust="spacingAndGlyphs">N-8654A</text>
<path d="M183,889 V926" stroke="#c4c4c4" stroke-width="2.4" stroke-dasharray="1.4 0.7 2.2 0.8 1 0.6" fill="none" opacity="0.8"/>
<text transform="translate(322.5,935.5) rotate(180)" font-family="'Liberation Sans',sans-serif" font-size="6" fill="#bdbdbd">R2</text>
<rect x="327.4" y="936.2" width="4.5" height="4.5" rx="0.8" fill="#e6dc82"/>
<rect x="334.3" y="936.2" width="4.5" height="4.5" rx="0.8" fill="#e6dc82"/>
<!-- connector -->
<rect x="377.3" y="848.8" width="5.2" height="45" rx="1" fill="#0f0f10"/>
<path d="M379.9,850.5 V893" stroke="#dcdcdc" stroke-width="3" stroke-dasharray="1.3 1.15"/>
<rect x="384.5" y="846.7" width="37.5" height="48.8" rx="1.5" fill="#2b2e33"/>
<rect x="384.5" y="846.7" width="37.5" height="4" fill="#3a3d43"/>
<circle cx="394.7" cy="870.7" r="1.3" fill="#111"/>
<rect x="405.6" y="851.8" width="14" height="39.2" fill="#b9b8b2"/>
<text transform="translate(408.8,862) rotate(90)" font-family="'Liberation Sans',sans-serif" font-size="8.5" fill="#8c8b85" textLength="19" lengthAdjust="spacingAndGlyphs">2020</text>
<rect x="419.6" y="848.5" width="3" height="45" fill="#1a1a1a"/>
<rect x="421.6" y="846.7" width="23.4" height="49.3" rx="1.2" fill="#cbcbc9"/>
<rect x="421.6" y="846.7" width="23.4" height="5" fill="#b5b5b3"/>
<rect x="421.6" y="890" width="23.4" height="6" fill="#dededc"/>
<rect x="434.7" y="857.6" width="5.2" height="7.4" fill="#1f1f1f"/>
<rect x="434.7" y="878.7" width="5.2" height="7.4" fill="#1f1f1f"/>
</g>
<!--CARD-END-->

<!--SLOT-START-->
<!-- ===== PCIe SLOT LABEL ===== -->
<g id="slot">
<!-- blue arrow -->
<path d="M464,958.5 H483 V950.6 L496.7,963.7 L483,976.8 V969.4 H464 Z" fill="#1f8fd8"/>
<path d="M468.6,958.5 V969.4 M473.4,958.5 V969.4 M478.2,958.5 V969.4" stroke="#6fb9ea" stroke-width="1.3"/>
<!-- slot body -->
<path d="M507.6,935 L650.6,935 L655,952.5 L654,986.2 L508.7,986.2 L508.7,953.5 Z" fill="#b9bdc9"/>
<path d="M507.6,935 L650.6,935 L655,952.5 L512,953.5 Z" fill="#dcdee3"/>
<path d="M507.6,935 L512,953.5 L508.7,986.2 L508.7,953.5 Z" fill="#a6aab6"/>
<!-- slot cavity -->
<path d="M515,938.5 L552,938.5 L553,950 L517,950 Z" fill="#e9e9e4"/>
<path d="M556,938.5 L646,938.5 L649,950 L557,950 Z" fill="#e9e9e4"/>
<path d="M516,943.2 L552.5,943.2 L552.8,947 L516.6,947 Z" fill="#d6d2b4"/>
<path d="M556.5,943.2 L647,943.2 L648,947 L556.8,947 Z" fill="#d6d2b4"/>
<path d="M516,940.4 H552 M556.5,940.4 H646.5" stroke="#7d7f86" stroke-width="1.8" stroke-dasharray="1.1 1.0"/>
<path d="M517,949 H552.6 M557,949 H648.5" stroke="#8a8c93" stroke-width="1.6" stroke-dasharray="1.1 1.0"/>
<text transform="translate(533.8,969.8) scale(1.286,1)" class="lab" font-weight="bold" font-size="18" fill="#0a0a0a">PCIe slot</text>
<text transform="translate(541.5,984) scale(1.32,1)" class="lab" font-weight="bold" font-size="12" fill="#0a0a0a">x4, x8, x16</text>
</g>
<!--SLOT-END-->

<!--SSD-START-->
<!-- ===== M.2 SSD ===== -->
<g id="ssd">
<defs><linearGradient id="ssdg" x1="0" y1="0" x2="0" y2="1"><stop offset="0" stop-color="#2f7040"/><stop offset="0.5" stop-color="#24592f"/><stop offset="1" stop-color="#2d6a3a"/></linearGradient></defs>
<path d="M746,755.6 L970.3,755.6 L970.3,781 Q964.5,786.7 970.3,792.5 L970.3,816.2 L746,816.2 Z" fill="url(#ssdg)"/>
<path d="M970.3,781 Q964.5,786.7 970.3,792.5" fill="none" stroke="#d8702a" stroke-width="1.6"/>
<!-- gold connector -->
<path d="M735.7,757.5 L746.5,757.5 L746.5,814.5 L735.7,814.5 L735.7,772 L739,772 L739,766 L735.7,766 Z" fill="#d39436"/>
<path d="M736,759.5 h10 M736,762.5 h10 M739,765.5 h7 M739,768.5 h7 M739,771.5 h7 M736,774.5 h10 M736,777.5 h10 M736,780.5 h10 M736,783.5 h10 M736,786.5 h10 M736,789.5 h10 M736,792.5 h10 M736,795.5 h10 M736,798.5 h10 M736,801.5 h10 M736,804.5 h10 M736,807.5 h10 M736,810.5 h10" stroke="#9a6520" stroke-width="0.9"/>
<!-- board detail -->
<path d="M750,759.5 H966 M750,813 H966" stroke="#5f9a6c" stroke-width="1.6" stroke-dasharray="3 4 6 3 2 5"/>
<rect x="814" y="756.5" width="146" height="8" fill="#15181a"/>
<rect x="760" y="811" width="200" height="3" fill="#1a2a1e"/>
<!-- label -->
<rect x="759" y="764" width="205" height="47.5" fill="#f3f3f1"/>
<rect x="759" y="764" width="205" height="47.5" fill="none" stroke="#1d1d1d" stroke-width="1.2"/>
<g font-family="'Liberation Sans',sans-serif" fill="#222">
    <path d="M781,773.5 a5.2,5.2 0 1 1 0,9 M781,778 h4.5 M790.5,773.5 a5.2,5.2 0 1 1 0,9 M790.5,778 h4.5" fill="none" stroke="#111" stroke-width="2"/>
  <path d="M836.0,777.0 h50.0" stroke="#6a6a6a" stroke-width="2.6" stroke-dasharray="2.2 0.8 1.2 0.7 3 0.9 1.6 0.7" fill="none"/>
  <path d="M839.0,783.5 h46.0" stroke="#999" stroke-width="2.2" stroke-dasharray="2.2 0.8 1.2 0.7 3 0.9 1.6 0.7" fill="none"/>
  <path d="M832.0,791.5 h50.0" stroke="#777" stroke-width="3.0" stroke-dasharray="2.2 0.8 1.2 0.7 3 0.9 1.6 0.7" fill="none"/>
  <path d="M899.0,769.0 h56.0" stroke="#909090" stroke-width="2.0" stroke-dasharray="2.2 0.8 1.2 0.7 3 0.9 1.6 0.7" fill="none"/>
  <path d="M899.0,774.5 h56.0" stroke="#909090" stroke-width="2.0" stroke-dasharray="2.2 0.8 1.2 0.7 3 0.9 1.6 0.7" fill="none"/>
  <path d="M899.0,780.0 h56.0" stroke="#909090" stroke-width="2.0" stroke-dasharray="2.2 0.8 1.2 0.7 3 0.9 1.6 0.7" fill="none"/>
  <path d="M899.0,801.5 h56.0" stroke="#909090" stroke-width="2.0" stroke-dasharray="2.2 0.8 1.2 0.7 3 0.9 1.6 0.7" fill="none"/>
  <path d="M899.0,807.0 h44.0" stroke="#909090" stroke-width="2.0" stroke-dasharray="2.2 0.8 1.2 0.7 3 0.9 1.6 0.7" fill="none"/>
    <rect x="761.5" y="766.5" width="16" height="3.6" fill="#111"/>
  <circle cx="787" cy="789.5" r="5.6" fill="none" stroke="#111" stroke-width="2"/>
  <circle cx="787" cy="789.5" r="2.2" fill="#111"/>
  <rect x="795" y="784" width="9" height="11" fill="none" stroke="#333" stroke-width="1"/>
  <rect x="762.5" y="772.5" width="13" height="10" fill="none" stroke="#777" stroke-width="0.8"/>
  <path d="M763.5,797 l6,-4 l6,4 l-6,4 Z" fill="#2f7fc4"/>
  <path d="M772,804 h30" stroke="#111" stroke-width="4"/>
  <rect x="817" y="768.5" width="12" height="9.5" fill="none" stroke="#444" stroke-width="0.9"/>
  <path d="M830,802.8 H887" stroke="#777" stroke-width="9" stroke-dasharray="1 0.8 2 0.7 0.8 1.1 1.6 0.9"/>
  <path d="M905,792.5 H955" stroke="#777" stroke-width="8" stroke-dasharray="0.9 0.8 1.8 0.7 0.8 1.2 1.5 0.8"/>
</g>
</g>
<!--SSD-END-->

<!--CDM-START-->
<!-- ===== CRYSTALDISKMARK WINDOW ===== -->
<g id="cdm" filter="url(#b1)">
<defs>
<linearGradient id="btn" x1="0" y1="0" x2="0" y2="1"><stop offset="0" stop-color="#cfe8b4"/><stop offset="0.35" stop-color="#9dd364"/><stop offset="0.6" stop-color="#7cc43a"/><stop offset="1" stop-color="#6cb82c"/></linearGradient>
<linearGradient id="bar" x1="0" y1="0" x2="0" y2="1"><stop offset="0" stop-color="#e2f1cf"/><stop offset="0.3" stop-color="#b2dc84"/><stop offset="0.7" stop-color="#88c94a"/><stop offset="1" stop-color="#79c238"/></linearGradient>
</defs>
<rect x="793" y="868.3" width="238.2" height="218.1" fill="#ffffff" stroke="#e3c977" stroke-width="2.6"/>
<path d="M797,873 l4,0 l1,2 l4,-2 l-3,5 l-6,0 Z" fill="#5aa82a"/><path d="M797,879 h8 v2 h-8 Z" fill="#7a7a7a"/>
<text x="808.8" y="880" font-family="'Liberation Sans',sans-serif" font-size="8.6" fill="#7a7a7a" textLength="83.5" lengthAdjust="spacingAndGlyphs">CrystalDiskMark 5.1.2 x64</text>
<path d="M959,877.5 h6" stroke="#9a9a9a" stroke-width="1"/>
<rect x="986.5" y="874" width="5.5" height="5.5" fill="none" stroke="#dcdcdc" stroke-width="0.8"/>
<path d="M1012,874 l6,6 M1018,874 l-6,6" stroke="#555" stroke-width="1.1"/>
<text x="799" y="893" font-family="'Liberation Sans','Noto Sans CJK TC',sans-serif" font-size="8" fill="#555" textLength="190" lengthAdjust="spacingAndGlyphs">檔案(F)　設定(S)　佈景主題(T)　說明(H)　語言(Language)</text>
<rect x="802.5" y="902" width="35.5" height="27.7" fill="url(#btn)" stroke="#d6e6c8" stroke-width="1"/>
<text x="820.2" y="919.5" text-anchor="middle" font-family="'Liberation Sans',sans-serif" font-size="9" fill="#3f7a1e">All</text>
<rect x="841.5" y="902.5" width="21.2" height="13" fill="#fff" stroke="#9a9a9a" stroke-width="0.8"/>
<text x="844.0" y="912.6" font-family="'Liberation Sans',sans-serif" font-size="8.4" fill="#666" textLength="4.5" lengthAdjust="spacingAndGlyphs">5</text>
<path d="M854.7,907.5 l2.4,2.6 l2.4,-2.6" fill="none" stroke="#444" stroke-width="1"/>
<rect x="865.0" y="902.5" width="46.0" height="13" fill="#fff" stroke="#9a9a9a" stroke-width="0.8"/>
<text x="867.5" y="912.6" font-family="'Liberation Sans',sans-serif" font-size="8.4" fill="#666" textLength="15.0" lengthAdjust="spacingAndGlyphs">1GiB</text>
<path d="M903.0,907.5 l2.4,2.6 l2.4,-2.6" fill="none" stroke="#444" stroke-width="1"/>
<rect x="914.7" y="902.5" width="107.6" height="13" fill="#fff" stroke="#9a9a9a" stroke-width="0.8"/>
<text x="917.2" y="912.6" font-family="'Liberation Sans',sans-serif" font-size="8.4" fill="#666" textLength="72.0" lengthAdjust="spacingAndGlyphs">C: 57% (17/29GiB)</text>
<path d="M1014.3,907.5 l2.4,2.6 l2.4,-2.6" fill="none" stroke="#444" stroke-width="1"/>
<text x="851" y="928.5" class="dj" font-weight="bold" font-size="9.6" fill="#3a3a3a" textLength="68.5" lengthAdjust="spacingAndGlyphs">Read [MB/s]</text>
<text x="942" y="928.5" class="dj" font-weight="bold" font-size="9.6" fill="#3a3a3a" textLength="70.8" lengthAdjust="spacingAndGlyphs">Write [MB/s]</text>
<rect x="802.5" y="933.3" width="35.5" height="28.3" fill="url(#btn)" stroke="#d6e6c8" stroke-width="1"/>
<text x="820.2" y="945.2" text-anchor="middle" font-family="'Liberation Sans',sans-serif" font-size="6.6" fill="#3f7a1e">Seq</text>
<text x="820.2" y="953.7" text-anchor="middle" font-family="'Liberation Sans',sans-serif" font-size="6.6" fill="#3f7a1e">Q32T1</text>
<rect x="841" y="933.3" width="88" height="28.3" fill="#fff" stroke="#d9d9d9" stroke-width="0.8"/>
<rect x="841.5" y="933.8" width="75.5" height="27.3" fill="url(#bar)"/>
<path d="M917.0,933.8 v27.3" stroke="#4f8a2a" stroke-width="0.7"/>
<rect x="932.4" y="933.3" width="89.9" height="28.3" fill="#fff" stroke="#d9d9d9" stroke-width="0.8"/>
<rect x="932.9" y="933.8" width="72.8" height="27.3" fill="url(#bar)"/>
<path d="M1005.7,933.8 v27.3" stroke="#4f8a2a" stroke-width="0.7"/>
<text x="851" y="956.4" class="dj" font-weight="bold" font-size="23.6" fill="#2c2c2c" textLength="63.7" lengthAdjust="spacingAndGlyphs">2226</text>
<text x="943" y="956.4" class="dj" font-weight="bold" font-size="23.6" fill="#2c2c2c" textLength="62.7" lengthAdjust="spacingAndGlyphs">1282</text>
<rect x="802.5" y="965.2" width="35.5" height="27.2" fill="url(#btn)" stroke="#d6e6c8" stroke-width="1"/>
<text x="820.2" y="976.6" text-anchor="middle" font-family="'Liberation Sans',sans-serif" font-size="6.6" fill="#3f7a1e">4K</text>
<text x="820.2" y="984.8" text-anchor="middle" font-family="'Liberation Sans',sans-serif" font-size="6.6" fill="#3f7a1e">Q32T1</text>
<rect x="841" y="965.2" width="88" height="27.2" fill="#fff" stroke="#d9d9d9" stroke-width="0.8"/>
<rect x="841.5" y="965.7" width="67.3" height="26.2" fill="url(#bar)"/>
<path d="M908.8,965.7 v26.2" stroke="#4f8a2a" stroke-width="0.7"/>
<rect x="932.4" y="965.2" width="89.9" height="27.2" fill="#fff" stroke="#d9d9d9" stroke-width="0.8"/>
<rect x="932.9" y="965.7" width="63.4" height="26.2" fill="url(#bar)"/>
<path d="M996.3,965.7 v26.2" stroke="#4f8a2a" stroke-width="0.7"/>
<text x="851" y="987.4" class="dj" font-weight="bold" font-size="23.6" fill="#2c2c2c" textLength="72.0" lengthAdjust="spacingAndGlyphs">651.1</text>
<text x="943" y="987.4" class="dj" font-weight="bold" font-size="23.6" fill="#2c2c2c" textLength="72.0" lengthAdjust="spacingAndGlyphs">386.9</text>
<rect x="802.5" y="997.0" width="35.5" height="27.3" fill="url(#btn)" stroke="#d6e6c8" stroke-width="1"/>
<text x="820.2" y="1013.4" text-anchor="middle" font-family="'Liberation Sans',sans-serif" font-size="7.2" fill="#3f7a1e">Seq</text>
<rect x="841" y="997.0" width="88" height="27.3" fill="#fff" stroke="#d9d9d9" stroke-width="0.8"/>
<rect x="841.5" y="997.5" width="73.2" height="26.3" fill="url(#bar)"/>
<path d="M914.7,997.5 v26.3" stroke="#4f8a2a" stroke-width="0.7"/>
<rect x="932.4" y="997.0" width="89.9" height="27.3" fill="#fff" stroke="#d9d9d9" stroke-width="0.8"/>
<rect x="932.9" y="997.5" width="72.8" height="26.3" fill="url(#bar)"/>
<path d="M1005.7,997.5 v26.3" stroke="#4f8a2a" stroke-width="0.7"/>
<text x="851" y="1019.2" class="dj" font-weight="bold" font-size="23.6" fill="#2c2c2c" textLength="63.7" lengthAdjust="spacingAndGlyphs">1526</text>
<text x="943" y="1019.2" class="dj" font-weight="bold" font-size="23.6" fill="#2c2c2c" textLength="62.7" lengthAdjust="spacingAndGlyphs">1268</text>
<rect x="802.5" y="1028.3" width="35.5" height="27.9" fill="url(#btn)" stroke="#d6e6c8" stroke-width="1"/>
<text x="820.2" y="1045.0" text-anchor="middle" font-family="'Liberation Sans',sans-serif" font-size="7.2" fill="#3f7a1e">4K</text>
<rect x="841" y="1028.3" width="88" height="27.9" fill="#fff" stroke="#d9d9d9" stroke-width="0.8"/>
<rect x="841.5" y="1028.8" width="47.2" height="26.9" fill="url(#bar)"/>
<path d="M888.7,1028.8 v26.9" stroke="#4f8a2a" stroke-width="0.7"/>
<rect x="932.4" y="1028.3" width="89.9" height="27.9" fill="#fff" stroke="#d9d9d9" stroke-width="0.8"/>
<rect x="932.9" y="1028.8" width="57.5" height="26.9" fill="url(#bar)"/>
<path d="M990.4,1028.8 v26.9" stroke="#4f8a2a" stroke-width="0.7"/>
<text x="851" y="1051.0" class="dj" font-weight="bold" font-size="23.6" fill="#2c2c2c" textLength="72.0" lengthAdjust="spacingAndGlyphs">46.49</text>
<text x="943" y="1051.0" class="dj" font-weight="bold" font-size="23.6" fill="#2c2c2c" textLength="72.0" lengthAdjust="spacingAndGlyphs">193.8</text>
<rect x="802.5" y="1062" width="219.8" height="16.6" fill="#fff" stroke="#d4d4d4" stroke-width="0.9"/>
<text x="814.3" y="1075.3" font-family="'Liberation Sans',sans-serif" font-size="10.6" fill="#2e2e2e" textLength="200.7" lengthAdjust="spacingAndGlyphs">Used Samsung SM951 256GB NVMe SSD</text>
</g>
<!--CDM-END-->

<!-- ===== LABELS / ARROWS ===== -->
<g id="labels">
<polygon points="334,673 348,697.7 342,697.7 342,723.4 326,723.4 326,697.7 319,697.7" fill="#0a0a0a"/>
<text x="519" y="760.7" class="lab" font-size="34" stroke="#1a1a1a" stroke-width="0.8" textLength="151" lengthAdjust="spacingAndGlyphs">SFF-8654</text>
<text x="691.4" y="498.4" class="lab dj" font-weight="bold" font-size="18" textLength="94" lengthAdjust="spacingAndGlyphs">SFF-8611</text>
<text x="875" y="386" class="lab" font-size="23" stroke="#1a1a1a" stroke-width="1.0" textLength="128" lengthAdjust="spacingAndGlyphs">(not include)</text>
<text x="167.5" y="1016.5" class="lab" font-size="23" stroke="#1a1a1a" stroke-width="1.0" textLength="129" lengthAdjust="spacingAndGlyphs">(not include)</text>
<text x="801" y="847" class="lab" font-size="23" stroke="#1a1a1a" stroke-width="1.0" textLength="128.4" lengthAdjust="spacingAndGlyphs">(not include)</text>
<text x="990" y="795.5" class="lab" font-size="24" stroke="#1a1a1a" stroke-width="0.9" textLength="72" lengthAdjust="spacingAndGlyphs">NVME</text>
<text x="734.7" y="734.4" class="dj" fill="#333" font-size="16.5" stroke="#333" stroke-width="0.6" textLength="247" lengthAdjust="spacingAndGlyphs">M.2 22x80mm form factor</text>
<text x="212.5" y="783.6" class="lab" font-weight="bold" font-size="14.4" stroke="#111" stroke-width="1.3" textLength="187.5" lengthAdjust="spacingAndGlyphs">PCIe 4-Lane Gen3 to</text>
<text x="212.5" y="804.6" class="lab" font-weight="bold" font-size="14.4" stroke="#111" stroke-width="1.3" textLength="214" lengthAdjust="spacingAndGlyphs">SFF-8654(Slimline SAS)</text>
<!-- red arrow to SFF-8611 -->
<polygon points="819,513 813.8,534 808.5,528.8 795.8,540.7 790,533.4 802,521.5 796.7,516" fill="#e8140c"/>
</g>
</svg>
</body>
</html>
